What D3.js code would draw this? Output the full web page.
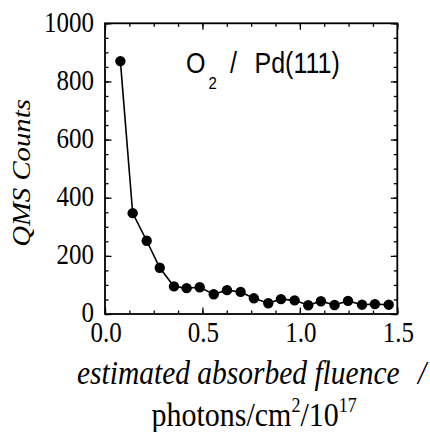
<!DOCTYPE html>
<html>
<head>
<meta charset="utf-8">
<script src="https://cdn.jsdelivr.net/npm/d3@7"></script>
<style>
html,body{margin:0;padding:0;background:#fff;}
svg{display:block;}
</style>
</head>
<body>
<svg id="chart" width="430" height="432"></svg>
<script>
// ---- data ----
const fluence = [0.079,0.142,0.214,0.281,0.354,0.419,0.486,0.558,0.626,0.696,0.764,0.838,0.903,0.973,1.043,1.108,1.178,1.247,1.319,1.385,1.456];
const qmsCounts = [870,347,252,159,95,89,92,68,82,76,54,37,51,47,30,44,31,45,32,34,32];
const xMajorTicks = [0.0, 0.5, 1.0, 1.5];
const xTickLabels = ["0.0", "0.5", "1.0", "1.5"];
const yMajorTicks = [0, 200, 400, 600, 800, 1000];
const yTickLabels = ["0", "200", "400", "600", "800", "1000"];
const xMinorTicks = d3.range(0, 1.5001, 0.125);
const yMinorTicks = d3.range(0, 1000.1, 50);

// ---- layout ----
const svg = d3.select("#chart");
const L = 105, R = 397.3, T = 23.3, B = 314;
const SY = 1.15;
const x = d3.scaleLinear().domain([0, 1.5]).range([L, R]);
const y = d3.scaleLinear().domain([0, 1000]).range([B, T]);

const SERIF = "Liberation Serif";
const SANS = "Liberation Sans";

function addText(px, py, str, opts) {
  const t = svg.append("text")
    .attr("transform", `translate(${px},${py}) ${opts.rotate ? "rotate(-90) scale(" + SY + ",1)" : "scale(1," + SY + ")"}`)
    .attr("font-family", opts.sans ? SANS : SERIF)
    .attr("font-size", opts.size)
    .attr("font-style", opts.italic ? "italic" : "normal")
    .attr("text-anchor", opts.anchor || "start")
    .attr("fill", "#000");
  if (str !== null) t.text(str);
  return t;
}

// ---- axes ticks (inward) ----
function axisGroup(axis, tx, ty) {
  const g = svg.append("g").attr("transform", `translate(${tx},${ty})`).call(axis);
  g.select(".domain").remove();
  g.selectAll("text").remove();
  g.selectAll("line").attr("stroke", "#000").attr("stroke-width", 1.3);
  return g;
}
const MAJ = 6.5, MIN = 3.5;
axisGroup(d3.axisBottom(x).tickValues(xMajorTicks).tickSize(-MAJ), 0, B);
axisGroup(d3.axisBottom(x).tickValues(xMinorTicks).tickSize(-MIN), 0, B);
axisGroup(d3.axisTop(x).tickValues(xMajorTicks).tickSize(-MAJ), 0, T);
axisGroup(d3.axisTop(x).tickValues(xMinorTicks).tickSize(-MIN), 0, T);
axisGroup(d3.axisLeft(y).tickValues(yMajorTicks).tickSize(-MAJ), L, 0);
axisGroup(d3.axisLeft(y).tickValues(yMinorTicks).tickSize(-MIN), L, 0);
axisGroup(d3.axisRight(y).tickValues(yMajorTicks).tickSize(-MAJ), R, 0);
axisGroup(d3.axisRight(y).tickValues(yMinorTicks).tickSize(-MIN), R, 0);

// frame
svg.append("rect")
  .attr("x", L).attr("y", T).attr("width", R - L).attr("height", B - T)
  .attr("fill", "none").attr("stroke", "#000").attr("stroke-width", 1.8);

// tick labels
yMajorTicks.forEach((v, i) => {
  addText(L - 11, y(v) + 8.5 - (v === 0 ? 1 : 0), yTickLabels[i], {size: 25, anchor: "end"});
});
xMajorTicks.forEach((v, i) => {
  addText(x(v) + 1, 342, xTickLabels[i], {size: 25, anchor: "middle"});
});

// data line + markers
const line = d3.line().x((d, i) => x(fluence[i])).y(d => y(d));
svg.append("path").datum(qmsCounts)
  .attr("d", line).attr("fill", "none").attr("stroke", "#000").attr("stroke-width", 1.6);
svg.append("g").selectAll("circle").data(qmsCounts).join("circle")
  .attr("cx", (d, i) => x(fluence[i])).attr("cy", d => y(d))
  .attr("r", 5.2).attr("fill", "#000");

// in-plot label O2 / Pd(111)
const lab = addText(186, 73, null, {size: 25, sans: true});
lab.append("tspan").attr("x", 0).text("O");
lab.append("tspan").attr("x", 22.5).attr("dy", 14).attr("font-size", 15).text("2");
lab.append("tspan").attr("x", 44).attr("dy", -14).text("/");
lab.append("tspan").attr("x", 68.5).text("Pd(111)");

// y title
addText(30, 173, "QMS Counts", {size: 25, italic: true, anchor: "middle", rotate: true});

// x title
const xt1 = addText(77, 384, null, {size: 29.5, italic: true});
xt1.append("tspan").attr("x", 0).text("estimated absorbed fluence");
xt1.append("tspan").attr("x", 341).text("/");
const xt2 = addText(151.5, 426, null, {size: 30});
xt2.append("tspan").text("photons/cm");
xt2.append("tspan").attr("font-size", 18).attr("dy", -12).text("2");
xt2.append("tspan").attr("dy", 12).text("/10");
xt2.append("tspan").attr("font-size", 18).attr("dy", -12).text("17");
</script>
</body>
</html>
